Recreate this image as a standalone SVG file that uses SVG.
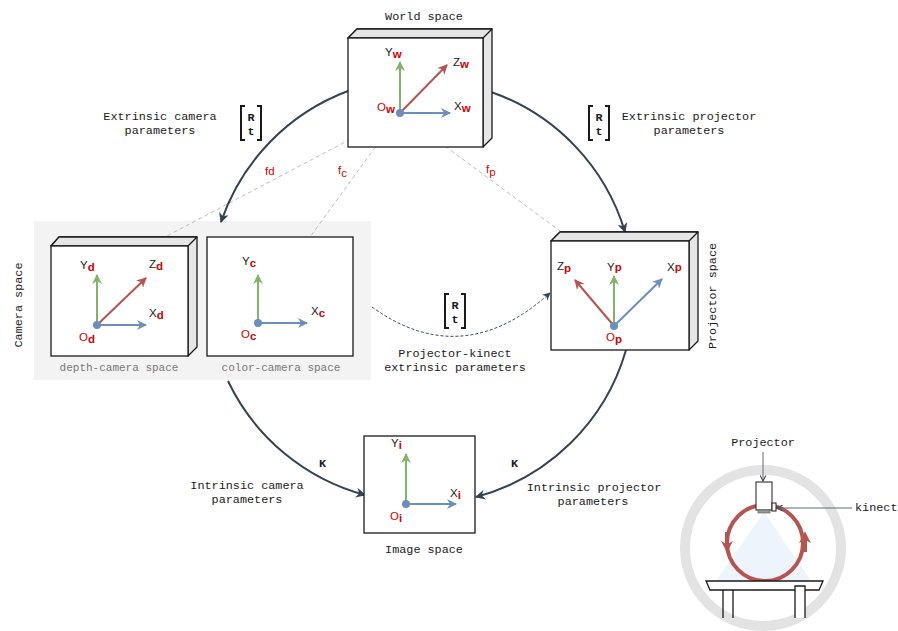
<svg xmlns="http://www.w3.org/2000/svg" width="898" height="631" viewBox="0 0 898 631">
<style>
  .mono { font-family: "Liberation Mono", "DejaVu Sans Mono", monospace; font-size: 11.8px; fill: #1a1a1a; }
  .mid { text-anchor: middle; }
  .grey { fill: #777; font-size: 11px; }
  .bold { font-weight: bold; }
  .ax { font-family: "Liberation Sans", Arial, sans-serif; font-size: 11.5px; fill: #1a1a1a; }
  .sub { fill: #d40000; font-weight: bold; }
  .red { fill: #d40000; }
  .box { fill: #fff; stroke: #1a1a1a; stroke-width: 1.3; }
  .side { fill: #e6e6e6; stroke: #1a1a1a; stroke-width: 1.3; stroke-linejoin: round; }
  .ya { stroke: #82b366; stroke-width: 2; fill: none; marker-end: url(#hg); }
  .xa { stroke: #6c8ebf; stroke-width: 2; fill: none; marker-end: url(#hb); }
  .za { stroke: #b85450; stroke-width: 2; fill: none; marker-end: url(#hr); }
  .org { fill: #6c8ebf; }
  .arc { stroke: #314354; stroke-width: 2; fill: none; marker-end: url(#hd); }
  .ray { stroke: #bdbdbd; stroke-width: 1; stroke-dasharray: 4 3; fill: none; }
  .brk { stroke: #1a1a1a; stroke-width: 2; fill: none; }
</style>
<defs>
  <marker id="hg" viewBox="0 0 10 10" refX="9" refY="5" markerWidth="5" markerHeight="5" orient="auto" markerUnits="strokeWidth"><path d="M0,0 L10,5 L0,10 L3,5 z" fill="#82b366"/></marker>
  <marker id="hb" viewBox="0 0 10 10" refX="9" refY="5" markerWidth="5" markerHeight="5" orient="auto" markerUnits="strokeWidth"><path d="M0,0 L10,5 L0,10 L3,5 z" fill="#6c8ebf"/></marker>
  <marker id="hr" viewBox="0 0 10 10" refX="9" refY="5" markerWidth="5" markerHeight="5" orient="auto" markerUnits="strokeWidth"><path d="M0,0 L10,5 L0,10 L3,5 z" fill="#b85450"/></marker>
  <marker id="hd" viewBox="0 0 10 10" refX="9" refY="5" markerWidth="5" markerHeight="5" orient="auto" markerUnits="strokeWidth"><path d="M0,0 L10,5 L0,10 L3,5 z" fill="#314354"/></marker>
  <marker id="hdd" viewBox="0 0 10 10" refX="9" refY="5" markerWidth="8" markerHeight="8" orient="auto" markerUnits="strokeWidth"><path d="M0,0 L10,5 L0,10 L3,5 z" fill="#314354"/></marker>
  <marker id="hk" viewBox="0 0 10 10" refX="9" refY="5" markerWidth="7" markerHeight="7" orient="auto" markerUnits="strokeWidth"><path d="M1,1 L9,5 L1,9" fill="none" stroke="#314354" stroke-width="1.5"/></marker>
  <marker id="hc" viewBox="0 0 10 10" refX="6" refY="5" markerWidth="3" markerHeight="3" orient="auto" markerUnits="strokeWidth"><path d="M0,0 L10,5 L0,10 L3,5 z" fill="#b85450"/></marker>
</defs>

<!-- camera space panel -->
<g id="camera-space">
  <rect x="34" y="221" width="337" height="159" fill="#f3f3f3"/>
  <text class="mono" transform="translate(22,305) rotate(-90)" text-anchor="middle">Camera space</text>
</g>

<!-- connectors -->
<g id="connectors">
  <path class="ray" d="M400,113 L165,237"/>
  <path class="ray" d="M400,113 L310,237"/>
  <path class="ray" d="M400,113 L560,231"/>
  <path class="arc" d="M348,91 A213,213 0 0,0 221,222"/>
  <path class="arc" d="M491,92 A213,213 0 0,1 625,232"/>
  <path class="arc" d="M228,381 A213,213 0 0,0 365,495"/>
  <path class="arc" d="M626,350 A213,213 0 0,1 476,497"/>
  <path d="M372,307 Q462,372 550,293" stroke="#314354" stroke-width="1" stroke-dasharray="3 2" fill="none" marker-end="url(#hdd)"/>
  <text class="ax red" x="265" y="175">fd</text>
  <text class="ax red" x="338" y="174">f<tspan dy="3">c</tspan></text>
  <text class="ax red" x="486" y="173">f<tspan dy="3">p</tspan></text>
</g>

<!-- world space -->
<g id="world">
  <text class="mono mid" x="424" y="20">World space</text>
  <path class="side" d="M348,38 L357,29 L492,29 L492,138 L483,147 L483,38 Z"/>
  <path class="side" d="M348,38 L357,29 L492,29 L483,38 Z"/>
  <rect class="box" x="348" y="38" width="135" height="109"/>
  <path class="ya" d="M400,113 L400,62"/>
  <path class="za" d="M400,113 L447,65"/>
  <path class="xa" d="M400,113 L450,113"/>
  <circle class="org" cx="400" cy="113" r="4"/>
  <text class="ax" x="385" y="56">Y<tspan class="sub" dy="2">w</tspan></text>
  <text class="ax" x="453" y="66">Z<tspan class="sub" dy="2">w</tspan></text>
  <text class="ax" x="454" y="110">X<tspan class="sub" dy="2">w</tspan></text>
  <text class="ax red" x="377" y="111">O<tspan class="sub" dy="2">w</tspan></text>
</g>

<!-- depth camera -->
<g id="depth-camera">
  <path class="side" d="M51,246 L59,237 L197,237 L197,347 L188,356 L188,246 Z"/>
  <path class="side" d="M51,246 L59,237 L197,237 L188,246 Z"/>
  <rect class="box" x="51" y="246" width="137" height="110"/>
  <path class="ya" d="M97,325 L97,275"/>
  <path class="za" d="M97,325 L146,278"/>
  <path class="xa" d="M97,325 L146,325"/>
  <circle class="org" cx="97" cy="325" r="4"/>
  <text class="ax" x="80" y="269">Y<tspan class="sub" dy="2">d</tspan></text>
  <text class="ax" x="149" y="268">Z<tspan class="sub" dy="2">d</tspan></text>
  <text class="ax" x="149" y="317">X<tspan class="sub" dy="2">d</tspan></text>
  <text class="ax red" x="79" y="341">O<tspan class="sub" dy="2">d</tspan></text>
  <text class="mono mid grey" x="119" y="371">depth-camera space</text>
</g>

<!-- color camera -->
<g id="color-camera">
  <rect class="box" x="207" y="237" width="146" height="119"/>
  <path class="ya" d="M258,323 L258,275"/>
  <path class="xa" d="M258,323 L307,323"/>
  <circle class="org" cx="258" cy="323" r="4"/>
  <text class="ax" x="242" y="265">Y<tspan class="sub" dy="2">c</tspan></text>
  <text class="ax" x="311" y="315">X<tspan class="sub" dy="2">c</tspan></text>
  <text class="ax red" x="241" y="338">O<tspan class="sub" dy="2">c</tspan></text>
  <text class="mono mid grey" x="281" y="371">color-camera space</text>
</g>

<!-- projector -->
<g id="projector">
  <path class="side" d="M551,241 L560,232 L698,232 L698,341 L689,350 L689,241 Z"/>
  <path class="side" d="M551,241 L560,232 L698,232 L689,241 Z"/>
  <rect class="box" x="551" y="241" width="138" height="109"/>
  <path class="ya" d="M614,326 L614,276"/>
  <path class="za" d="M614,326 L575,280"/>
  <path class="xa" d="M614,326 L662,279"/>
  <circle class="org" cx="614" cy="326" r="4"/>
  <text class="ax" x="557" y="270">Z<tspan class="sub" dy="2">p</tspan></text>
  <text class="ax" x="607" y="271">Y<tspan class="sub">p</tspan></text>
  <text class="ax" x="667" y="271">X<tspan class="sub">p</tspan></text>
  <text class="ax red" x="606" y="341">O<tspan class="sub" dy="2">p</tspan></text>
  <text class="mono" transform="translate(716,296) rotate(-90)" text-anchor="middle">Projector space</text>
</g>

<!-- image -->
<g id="image">
  <rect class="box" x="364" y="436" width="111" height="97"/>
  <path class="ya" d="M406,504 L406,454"/>
  <path class="xa" d="M406,504 L456,504"/>
  <circle class="org" cx="406" cy="504" r="4"/>
  <text class="ax" x="391" y="447">Y<tspan class="sub" dy="2">i</tspan></text>
  <text class="ax" x="450" y="497">X<tspan class="sub" dy="2">i</tspan></text>
  <text class="ax red" x="390" y="520">O<tspan class="sub" dy="2">i</tspan></text>
  <text class="mono mid" x="424" y="553">Image space</text>
</g>

<!-- parameter labels -->
<g id="labels">
  <text class="mono mid" x="160" y="120">Extrinsic camera</text>
  <text class="mono mid" x="160" y="134">parameters</text>
  <text class="mono mid" x="689" y="120">Extrinsic projector</text>
  <text class="mono mid" x="689" y="134">parameters</text>
  <text class="mono mid" x="455" y="357">Projector-kinect</text>
  <text class="mono mid" x="455" y="371">extrinsic parameters</text>
  <text class="mono mid" x="247" y="489">Intrinsic camera</text>
  <text class="mono mid" x="247" y="503">parameters</text>
  <text class="mono mid" x="594" y="491">Intrinsic projector</text>
  <text class="mono mid" x="593" y="505">parameters</text>
  <text class="mono bold" x="319" y="467">K</text>
  <text class="mono bold" x="511" y="467">K</text>
</g>

<!-- [R t] matrices -->
<g id="rt-camera">
  <path class="brk" d="M245,106 L241,106 L241,140 L245,140 M257,106 L261,106 L261,140 L257,140"/>
  <text class="mono bold mid" x="251" y="121">R</text>
  <text class="mono bold mid" x="251" y="135">t</text>
</g>
<g id="rt-projector">
  <path class="brk" d="M593,106 L589,106 L589,140 L593,140 M605,106 L609,106 L609,140 L605,140"/>
  <text class="mono bold mid" x="599" y="121">R</text>
  <text class="mono bold mid" x="599" y="135">t</text>
</g>
<g id="rt-kinect">
  <path class="brk" d="M449,294 L445,294 L445,328 L449,328 M461,294 L465,294 L465,328 L461,328"/>
  <text class="mono bold mid" x="455" y="309">R</text>
  <text class="mono bold mid" x="455" y="323">t</text>
</g>

<!-- setup sketch: projector and kinect above a turntable -->
<g id="setup">
  <circle cx="763" cy="548" r="78" fill="none" stroke="#e3e3e3" stroke-width="10"/>
  <path d="M764,512 L715,582 L812,582 Z" fill="#eef4fc"/>
  <circle cx="765" cy="543" r="38" fill="none" stroke="#b85450" stroke-width="4"/>
  <path d="M727,532 L727,548" stroke="#b85450" stroke-width="4" fill="none" marker-end="url(#hc)"/>
  <path d="M805,552 L805,536" stroke="#b85450" stroke-width="4" fill="none" marker-end="url(#hc)"/>
  <rect x="756" y="482" width="16" height="28" fill="#fff" stroke="#1a1a1a" stroke-width="1"/>
  <rect x="758" y="510" width="12" height="3" fill="#999" stroke="#555" stroke-width="0.6"/>
  <rect x="772" y="503" width="4" height="8" fill="#fff" stroke="#1a1a1a" stroke-width="1"/>
  <path d="M763,452 L763,481" stroke="#5a6a7a" stroke-width="1" fill="none" marker-end="url(#hk)"/>
  <path d="M852,508 L777,508" stroke="#5a6a7a" stroke-width="1" fill="none" marker-end="url(#hk)"/>
  <text class="mono mid" x="763" y="446">Projector</text>
  <text class="mono" x="855" y="511">kinect</text>
  <path d="M706,581 L823,581 L819,590 L710,590 Z" fill="#fff" stroke="#1a1a1a" stroke-width="1.3"/>
  <path d="M723,590 L723,618 M733,590 L733,618" stroke="#1a1a1a" stroke-width="1.3" fill="none"/>
  <path d="M795,618 L795,586 L805,586 L805,618" stroke="#1a1a1a" stroke-width="1.3" fill="#fff"/>
</g>
</svg>
